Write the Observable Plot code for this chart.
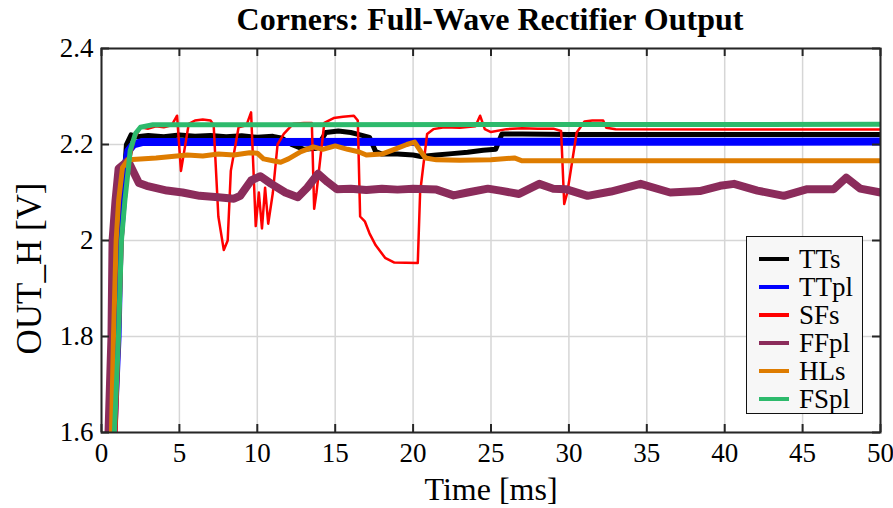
<!DOCTYPE html>
<html>
<head>
<meta charset="utf-8">
<script src="https://cdn.jsdelivr.net/npm/d3@7"></script>
<script src="https://cdn.jsdelivr.net/npm/@observablehq/plot@0.6"></script>
<style>
  html, body { margin: 0; padding: 0; background: #fff; }
  #wrap { position: relative; width: 893px; height: 508px; font-family: "Liberation Serif", serif; }
  #title { height: 28px; width: 893px; position: relative; }
  #title span { position: absolute; left: 490px; top: 2px; transform: translateX(-50%); font-size: 32px; font-weight: bold; white-space: nowrap; line-height: 34px; }
  #chart svg { overflow: visible; }
  #chart svg text { font-family: "Liberation Serif", serif; }
  #legend { position: absolute; left: 746px; top: 236px; width: 115px; height: 176px; background: #f7f7f7; border: 1.5px solid #111; }
  .row { position: absolute; left: 0; height: 28px; width: 115px; }
  .row i { position: absolute; left: 12px; top: 12px; width: 30px; height: 4px; }
  .row b { position: absolute; left: 52px; top: 0; font-weight: normal; font-size: 27px; line-height: 28px; }
</style>
</head>
<body>
<div id="wrap">
  <div id="title"><span>Corners: Full-Wave Rectifier Output</span></div>
  <div id="chart"></div>
  <div id="legend"></div>
</div>
<script>
// ---- data (time in ms, voltage in V) ----
const seriesNames = ["TTs", "TTpl", "SFs", "FFpl", "HLs", "FSpl"];
const seriesColors = ["#000000", "#0000ff", "#ff0000", "#8b2c5b", "#de7c00", "#2dba6c"];
const seriesWidths = [5, 8, 2.5, 8, 5, 5];

const xTicks = [0, 5, 10, 15, 20, 25, 30, 35, 40, 45, 50];
const yTicks = [1.6, 1.8, 2.0, 2.2, 2.4];

const ttsT = [0.8, 1.1, 1.35, 1.5, 1.6, 1.9, 2.3, 3, 4, 5, 6, 7, 8, 9, 10, 11, 11.6, 12.2, 13, 13.8, 14.4, 15.2, 16, 16.6, 17.2, 17.6, 18, 19, 20, 20.5, 21.5, 22.5, 23.5, 24.5, 25.3, 25.7, 27, 30, 35, 40, 45, 50];
const ttsV = [1.6, 2.0, 2.083, 2.152, 2.2, 2.22, 2.216, 2.219, 2.216, 2.22, 2.217, 2.219, 2.216, 2.218, 2.215, 2.217, 2.213, 2.2, 2.19, 2.192, 2.225, 2.228, 2.225, 2.22, 2.215, 2.185, 2.18, 2.18, 2.178, 2.175, 2.178, 2.181, 2.184, 2.188, 2.19, 2.222, 2.222, 2.221, 2.221, 2.221, 2.221, 2.221];

const ttplT = [0.77, 1.03, 1.16, 1.37, 1.54, 1.73, 2.05, 2.6, 50];
const ttplV = [1.6, 1.8, 2.0, 2.083, 2.152, 2.187, 2.2, 2.205, 2.206];

const sfsT = [0.96, 1.16, 1.35, 1.5, 1.73, 2.1, 2.5, 3, 3.5, 4, 4.5, 4.85, 5.1, 5.6, 6, 6.5, 7, 7.2, 7.5, 7.85, 8.1, 8.3, 8.8, 9.3, 9.6, 9.75, 9.9, 10.1, 10.3, 10.5, 10.7, 11.0, 11.3, 11.7, 12.3, 13, 13.5, 13.65, 13.8, 14.3, 14.9, 15.5, 16.2, 16.45, 16.6, 16.9, 17.2, 17.6, 18.2, 18.8, 20.3, 20.45, 20.9, 21.3, 22, 23, 24, 24.3, 24.6, 25, 26, 27, 28, 29, 29.5, 29.7, 29.9, 30.5, 31, 31.5, 32.2, 32.4, 33, 40, 50];
const sfsV = [1.6, 1.8, 2.0, 2.08, 2.152, 2.21, 2.236, 2.233, 2.238, 2.236, 2.24, 2.26, 2.145, 2.243, 2.25, 2.252, 2.25, 2.24, 2.05, 1.98, 2.0, 2.145, 2.236, 2.24, 2.267, 2.15, 2.03, 2.1, 2.025, 2.11, 2.035, 2.1, 2.2, 2.222, 2.243, 2.245, 2.245, 2.066, 2.1, 2.245, 2.255, 2.258, 2.26, 2.25, 2.05, 2.04, 2.015, 1.99, 1.964, 1.954, 1.953, 2.1, 2.222, 2.232, 2.236, 2.235, 2.238, 2.26, 2.232, 2.226, 2.232, 2.234, 2.233, 2.233, 2.228, 2.076, 2.1, 2.225, 2.248, 2.25, 2.25, 2.235, 2.232, 2.231, 2.231];

const ffplT = [0.45, 0.64, 0.71, 0.9, 1.1, 1.7, 2.4, 2.9, 4.2, 5.2, 6.3, 7.5, 8.5, 8.9, 9.6, 10.2, 10.9, 11.8, 12.6, 13.2, 13.9, 14.5, 15.1, 16, 17, 18, 19, 20, 21.5, 22.6, 23.5, 24.8, 25.6, 26.8, 28.1, 29, 29.8, 31.2, 32.7, 34.6, 36.5, 38.4, 39.7, 40.6, 42.1, 43.8, 45.3, 47, 47.8, 48.7, 50];
const ffplV = [1.6, 1.8, 2.0, 2.083, 2.15, 2.166, 2.12, 2.114, 2.104, 2.1, 2.093, 2.09, 2.087, 2.093, 2.125, 2.134, 2.118, 2.1, 2.09, 2.11, 2.139, 2.122, 2.107, 2.108, 2.105, 2.108, 2.106, 2.108, 2.106, 2.094, 2.1, 2.108, 2.104, 2.097, 2.118, 2.108, 2.107, 2.093, 2.102, 2.118, 2.1, 2.103, 2.114, 2.118, 2.104, 2.093, 2.107, 2.107, 2.131, 2.108, 2.1];

const hlsT = [0.64, 0.77, 0.94, 1.1, 1.35, 1.7, 2.5, 3.5, 4.5, 5.5, 6.5, 7.5, 8.5, 9.5, 10, 10.4, 11, 11.5, 12, 12.8, 13.6, 14.2, 15, 15.8, 16.5, 17, 18, 18.8, 19.6, 20.1, 20.5, 20.8, 21.5, 23, 25, 26.5, 27, 30, 35, 40, 45, 50];
const hlsV = [1.6, 1.8, 2.0, 2.083, 2.152, 2.168, 2.17, 2.172, 2.175, 2.178, 2.176, 2.18, 2.178, 2.183, 2.182, 2.17, 2.166, 2.163, 2.17, 2.185, 2.195, 2.19, 2.197, 2.19, 2.185, 2.178, 2.18, 2.19, 2.2, 2.205, 2.185, 2.172, 2.168, 2.167, 2.168, 2.172, 2.166, 2.166, 2.166, 2.166, 2.166, 2.166];

const fsplT = [0.83, 1.09, 1.28, 1.5, 1.73, 1.84, 2.18, 2.5, 3.3, 50];
const fsplV = [1.6, 1.8, 2.0, 2.083, 2.152, 2.187, 2.223, 2.236, 2.241, 2.242];

const allT = [ttsT, ttplT, sfsT, ffplT, hlsT, fsplT];
const allV = [ttsV, ttplV, sfsV, ffplV, hlsV, fsplV];

const FONT = "Liberation Serif";

const lineMarks = seriesNames.map((name, i) =>
  Plot.line(allT[i].map((t, j) => ({t, v: allV[i][j], name})), {
    x: "t", y: "v", stroke: seriesColors[i], strokeWidth: seriesWidths[i],
    strokeLinejoin: "round", clip: true
  })
);

const chart = Plot.plot({
  width: 893,
  height: 480,
  marginTop: 20,
  marginBottom: 76,
  marginLeft: 101,
  marginRight: 13,
  style: {fontFamily: FONT, background: "#fff", color: "#000", overflow: "visible"},
  x: {domain: [0, 50]},
  y: {domain: [1.6, 2.4]},
  marks: [
    Plot.gridX(xTicks, {stroke: "#d6d6d6", strokeOpacity: 1, strokeWidth: 1.5}),
    Plot.gridY(yTicks, {stroke: "#d6d6d6", strokeOpacity: 1, strokeWidth: 1.5}),
    ...lineMarks,
    Plot.frame({stroke: "#262626", strokeWidth: 2}),
    Plot.tickX(xTicks, {x: d => d, insetTop: 376, stroke: "#262626", strokeWidth: 2}),
    Plot.tickX(xTicks, {x: d => d, insetBottom: 376, stroke: "#262626", strokeWidth: 2}),
    Plot.tickY(yTicks, {y: d => d, insetRight: 771, stroke: "#262626", strokeWidth: 2}),
    Plot.tickY(yTicks, {y: d => d, insetLeft: 771, stroke: "#262626", strokeWidth: 2}),
    Plot.axisX({ticks: xTicks, tickSize: 0, tickPadding: 10, fontSize: 27, fontFamily: FONT, label: null}),
    Plot.axisY({ticks: yTicks, tickSize: 0, tickPadding: 8, fontSize: 27, fontFamily: FONT, label: null,
      tickFormat: d => String(+d.toFixed(1))}),
    Plot.text(["Time [ms]"], {frameAnchor: "bottom", dy: 57, fontSize: 32, fontFamily: FONT, lineAnchor: "middle", textAnchor: "middle"}),
    Plot.text(["OUT_H [V]"], {frameAnchor: "left", dx: -72, dy: 28, rotate: -90, fontSize: 35, fontFamily: FONT, lineAnchor: "middle", textAnchor: "middle"})
  ]
});
document.getElementById("chart").appendChild(chart);

// legend
const legend = document.getElementById("legend");
seriesNames.forEach((name, i) => {
  const row = document.createElement("div");
  row.className = "row";
  row.style.top = (8 + i * 28) + "px";
  row.innerHTML = `<i style="background:${seriesColors[i]}"></i><b>${name}</b>`;
  legend.appendChild(row);
});
</script>
</body>
</html>
